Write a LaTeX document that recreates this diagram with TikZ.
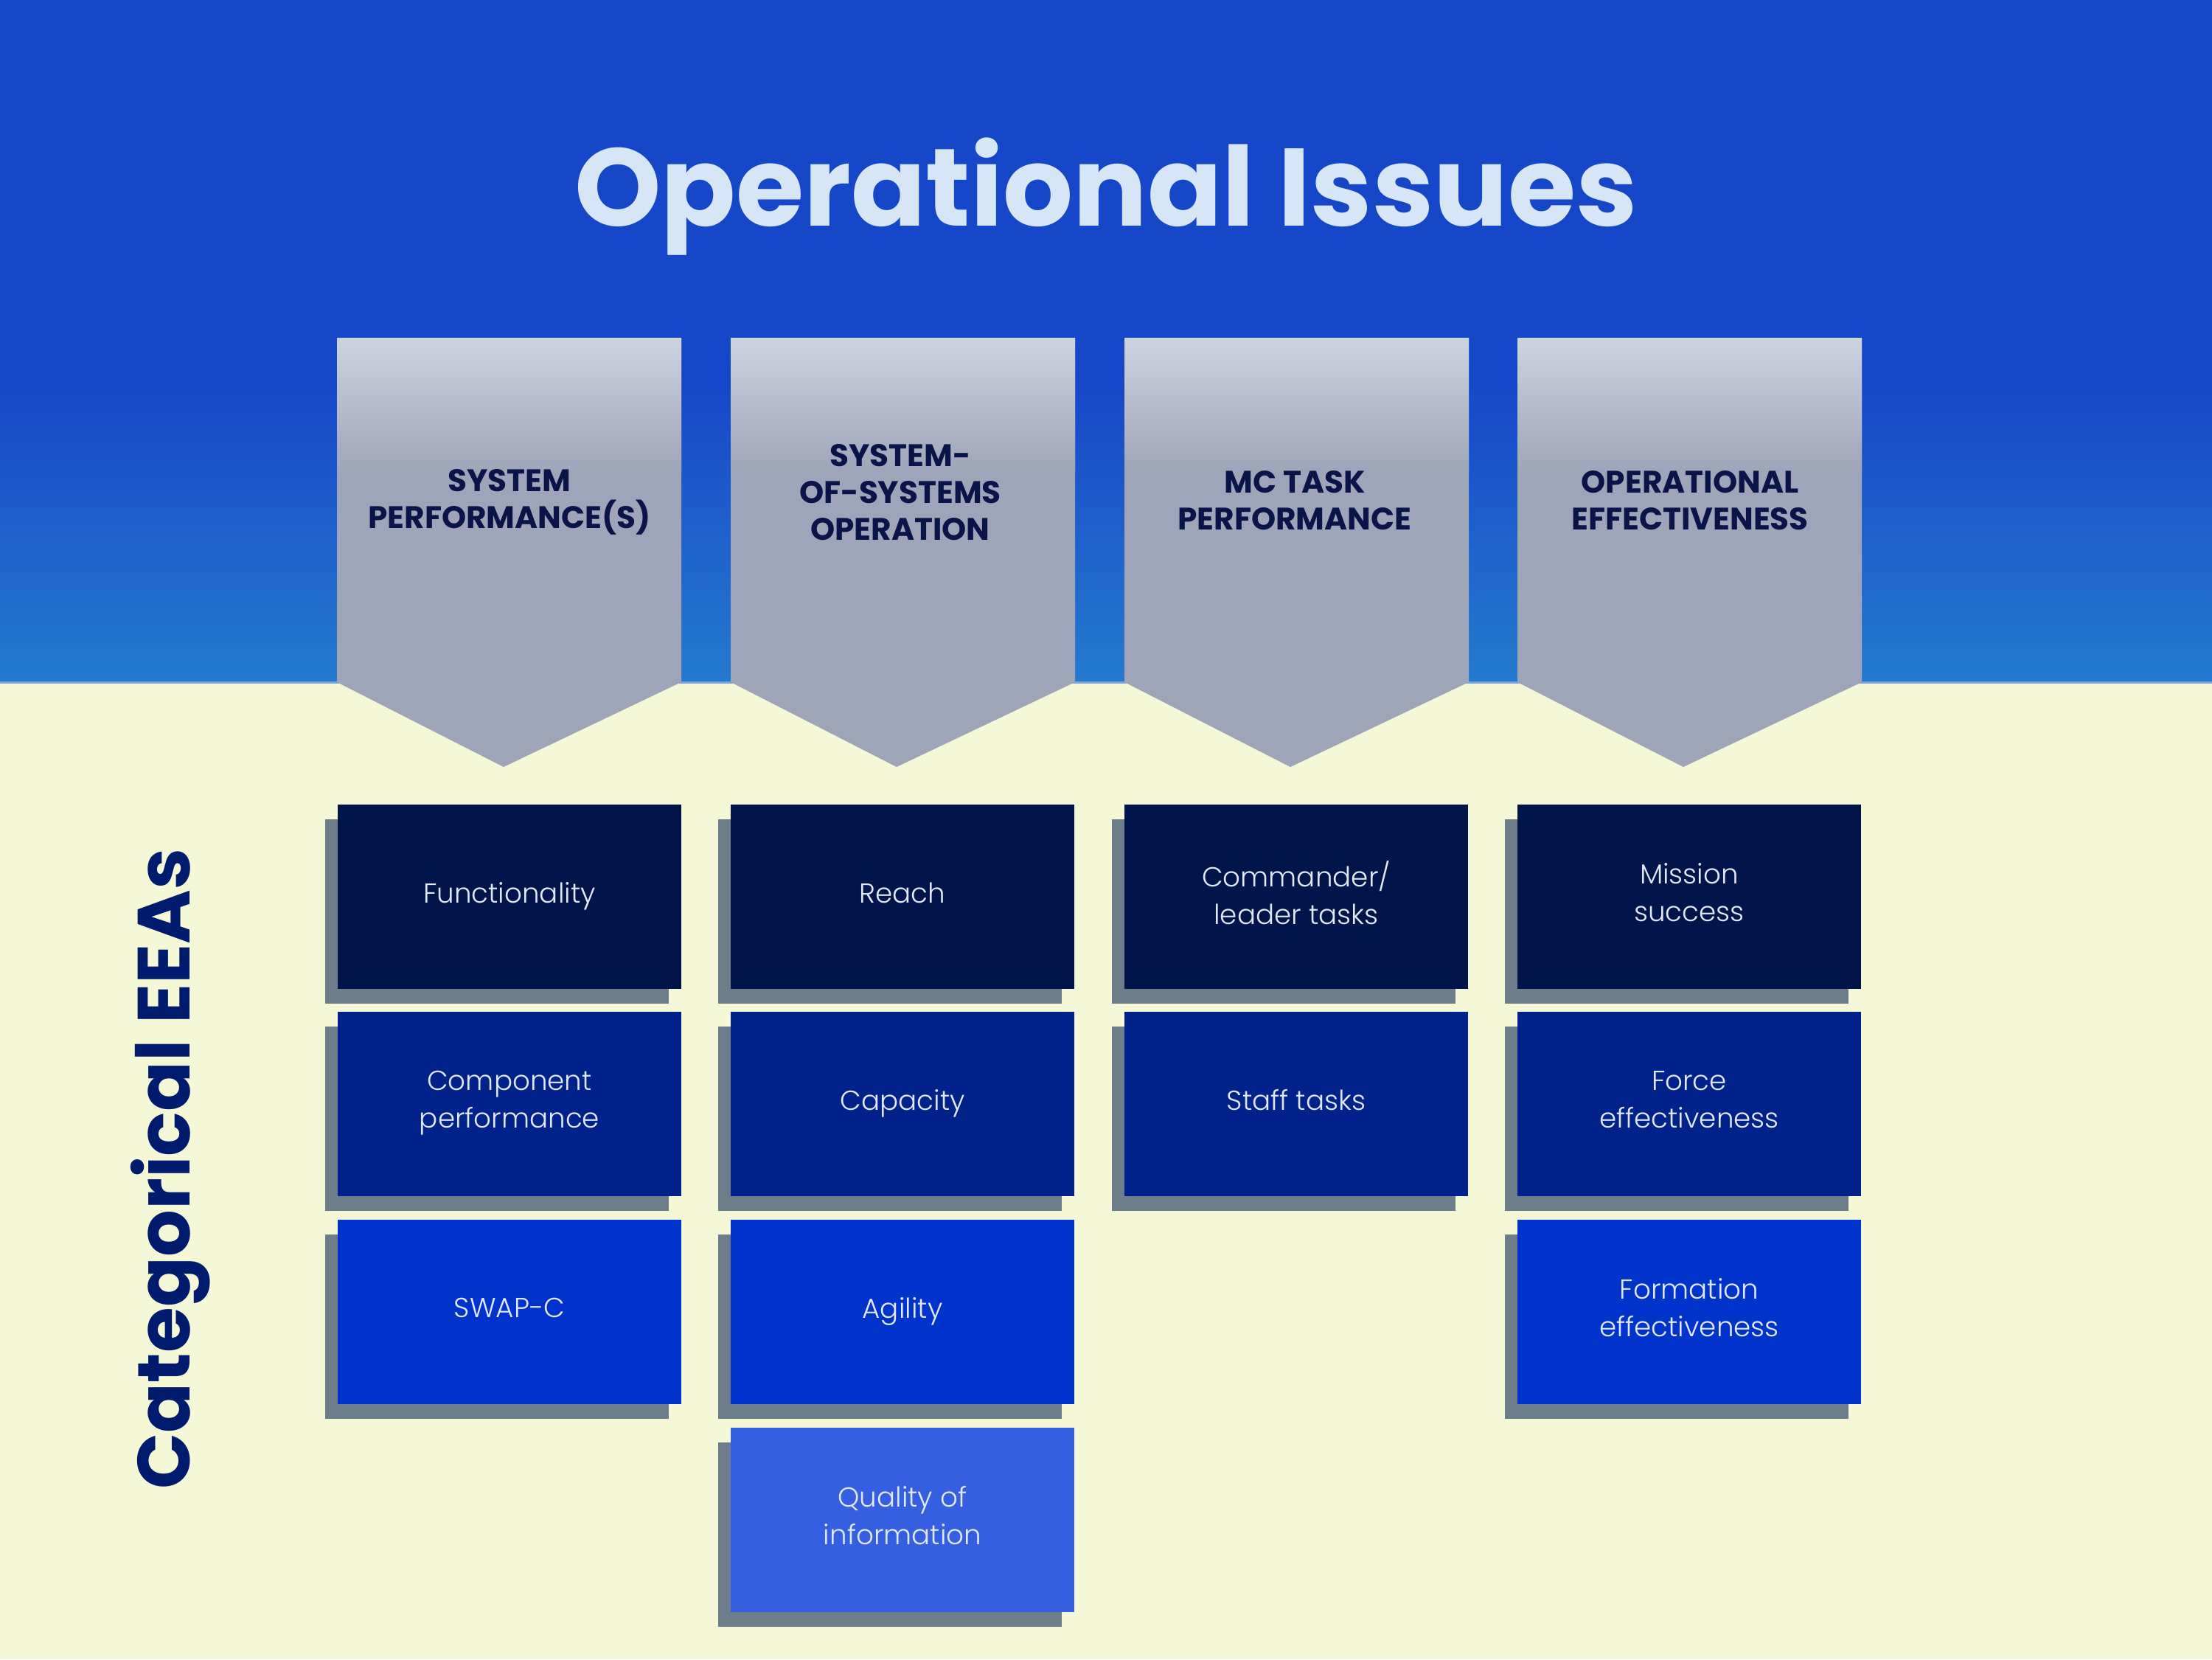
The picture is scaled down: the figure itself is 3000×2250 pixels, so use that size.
\documentclass[tikz,border=0pt]{standalone}
\usepackage{fontspec}
\setmainfont{Poppins}
\newfontfamily\lightfont{Poppins Light}
\usetikzlibrary{shadows}
\definecolor{bgblue}{RGB}{23,71,201}
\definecolor{bgbluelow}{RGB}{36,122,206}
\definecolor{bgcream}{RGB}{245,248,214}
\definecolor{seamblue}{RGB}{120,160,232}
\definecolor{headtop}{RGB}{206,211,224}
\definecolor{headgray}{RGB}{158,165,184}
\definecolor{headink}{RGB}{10,20,70}
\definecolor{titleink}{RGB}{214,230,246}
\definecolor{eeaink}{RGB}{0,26,110}
\definecolor{rowone}{RGB}{1,21,74}
\definecolor{rowtwo}{RGB}{0,34,138}
\definecolor{rowthree}{RGB}{0,51,204}
\definecolor{rowfour}{RGB}{54,94,224}
\definecolor{shadowgray}{RGB}{110,125,138}
\definecolor{boxink}{RGB}{225,232,245}
\begin{document}
\begin{tikzpicture}[x=0.01cm,y=-0.01cm,
  pagetitle/.style={anchor=base,inner sep=0pt,text=titleink,font=\bfseries\fontsize{42.5}{48}\selectfont},
  sidetitle/.style={anchor=base,rotate=90,inner sep=0pt,text=eeaink,font=\bfseries\fontsize{28.5}{32}\selectfont},
  issuelabel/.style={align=center,inner sep=0pt,text=headink,font=\bfseries\fontsize{12}{14.2}\selectfont},
  eeabox/.style={minimum width=4.66cm,minimum height=2.5cm,inner sep=0pt,align=center,text=boxink,
    text depth=0.6ex,font=\lightfont\fontsize{10.6}{14.5}\selectfont,
    drop shadow={shadow xshift=-0.17cm,shadow yshift=-0.2cm,fill=shadowgray,opacity=1}}]

\useasboundingbox (0,0) rectangle (3000,2250);
\fill[bgcream] (0,0) rectangle (3000,2250);
\fill[bgblue] (0,0) rectangle (3000,520);
\fill[top color=bgblue,bottom color=bgbluelow] (0,520) rectangle (3000,925);
\draw[seamblue,line width=0.03cm] (0,925) -- (3000,925);

\foreach \xl/\tip in {457/683,991/1216,1525/1750,2058/2283} {
  \fill[headgray] (\xl,458) -- (\xl+467,458) -- (\xl+467,925) -- (\tip,1040) -- (\xl,925) -- cycle;
  \fill[top color=headtop,bottom color=headgray] (\xl,458) rectangle (\xl+467,640);
}

\node[pagetitle] (title) at (1500,306) {Operational Issues};
\node[sidetitle] (eeas) at (257,1585) {Categorical EEAs};

\node[issuelabel] (sysperf) at (691,681) {SYSTEM\\PERFORMANCE(S)};
\node[issuelabel] (sosop) at (1221,668) {SYSTEM-\\OF-SYSTEMS\\OPERATION};
\node[issuelabel] (mctask) at (1756,679) {MC TASK\\PERFORMANCE};
\node[issuelabel] (opeff) at (2292,679) {OPERATIONAL\\EFFECTIVENESS};

\node[eeabox,fill=rowone] (func) at (691,1216) {Functionality};
\node[eeabox,fill=rowtwo] (comp) at (691,1497) {Component\\performance};
\node[eeabox,fill=rowthree] (swapc) at (691,1779) {SWAP-C};

\node[eeabox,fill=rowone] (reach) at (1224,1216) {Reach};
\node[eeabox,fill=rowtwo] (capac) at (1224,1497) {Capacity};
\node[eeabox,fill=rowthree] (agil) at (1224,1779) {Agility};
\node[eeabox,fill=rowfour] (qual) at (1224,2061) {Quality of\\information};

\node[eeabox,fill=rowone] (cmdr) at (1758,1216) {Commander/\\leader tasks};
\node[eeabox,fill=rowtwo] (staff) at (1758,1497) {Staff tasks};

\node[eeabox,fill=rowone] (missn) at (2291,1216) {Mission\\success};
\node[eeabox,fill=rowtwo] (force) at (2291,1497) {Force\\effectiveness};
\node[eeabox,fill=rowthree] (form) at (2291,1779) {Formation\\effectiveness};

\end{tikzpicture}
\end{document}
